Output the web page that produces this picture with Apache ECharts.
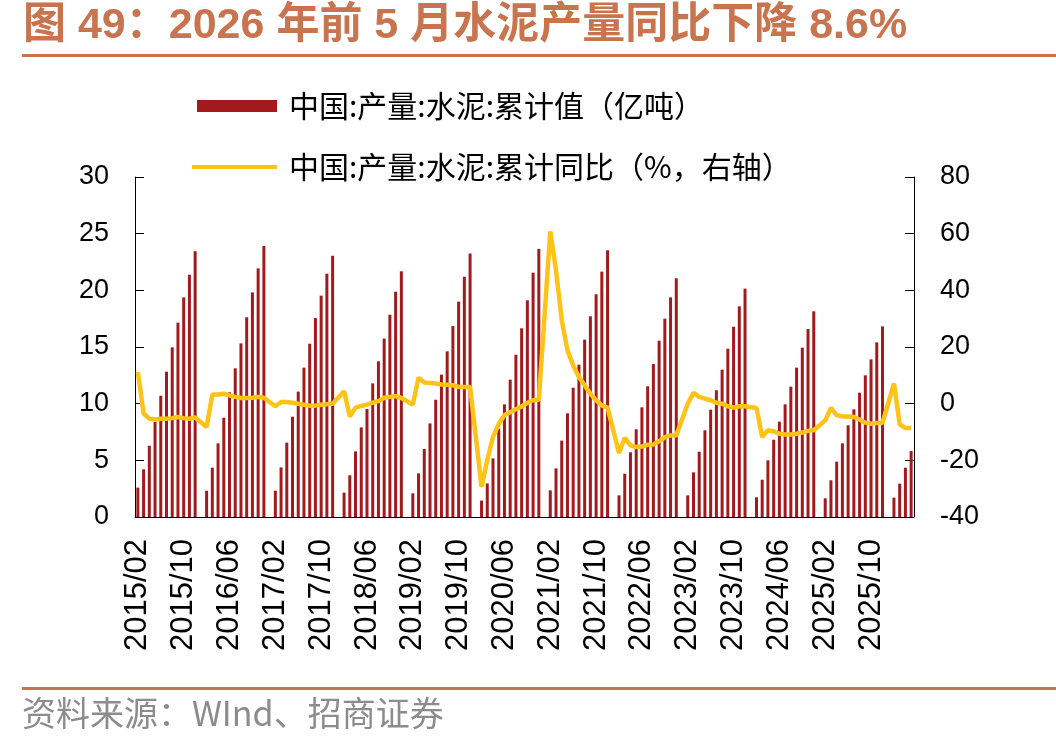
<!DOCTYPE html>
<html>
<head>
<meta charset="utf-8">
<script src="https://cdn.jsdelivr.net/npm/echarts@6/dist/echarts.min.js"></script>
<style>
  html, body { margin: 0; padding: 0; background: #fff; }
  #main { width: 1056px; height: 750px; }
</style>
</head>
<body>
<div id="main"></div>
<script>
// 月份：2015/02 起至 2026/05（1 月份无单独数据，置空）
var startYear = 2015, startMonth = 2, endYear = 2026, endMonth = 5;

// 水泥累计产量（亿吨），每行一年，1 月为 null
var output = [
  2.59, 4.21, 6.29, 8.38, 10.7, 12.82, 14.97, 17.15, 19.38, 21.38, 23.44,
  null, 2.32, 4.35, 6.5, 8.76, 11.0, 13.12, 15.32, 17.62, 19.82, 21.94, 23.91,
  null, 2.32, 4.38, 6.56, 8.85, 11.06, 13.18, 15.29, 17.56, 19.53, 21.47, 23.06,
  null, 2.15, 3.68, 5.79, 7.91, 9.53, 11.79, 13.74, 15.74, 17.85, 19.88, 21.68,
  null, 2.09, 3.85, 6.0, 8.26, 10.35, 12.56, 14.62, 16.85, 19.0, 21.2, 23.24,
  null, 1.45, 2.96, 5.17, 7.8, 9.94, 12.12, 14.32, 16.65, 19.12, 21.56, 23.65,
  null, 2.35, 4.29, 6.74, 9.15, 11.41, 13.44, 15.65, 17.71, 19.65, 21.65, 23.53,
  null, 1.91, 3.82, 5.71, 7.74, 9.68, 11.53, 13.5, 15.56, 17.5, 19.38, 21.06,
  null, 1.91, 3.94, 5.76, 7.65, 9.47, 11.18, 13.0, 14.85, 16.79, 18.59, 20.15,
  null, 1.74, 3.29, 5.0, 6.82, 8.41, 9.94, 11.5, 13.18, 14.94, 16.59, 18.15,
  null, 1.65, 3.24, 4.88, 6.5, 8.09, 9.5, 10.97, 12.5, 13.91, 15.41, 16.82,
  null, 1.71, 2.94, 4.35, 5.82
];

// 水泥累计同比（%，右轴）
var yoy = [
  11.2, -3.5, -5.3, -5.6, -5.3, -5.3, -5.1, -4.7, -5.1, -5.3, -4.9,
  null, -8.2, 3.2, 3.2, 3.5, 2.9, 2.4, 2.0, 2.0, 2.1, 2.4, 2.1,
  null, -0.9, 0.6, 0.6, 0.35, 0, -0.35, -0.7, -0.7, -0.35, -0.2, 0,
  null, 4.4, -4.5, -1.4, -0.8, -0.35, 0.35, 0.9, 2.1, 2.4, 2.7, 2.0,
  null, -0.35, 9.2, 7.5, 7.3, 7.1, 6.8, 6.7, 6.5, 5.9, 5.9, 5.9,
  null, -29.3, -20, -11.7, -7.2, -4.0, -3.0, -2.0, -1.0, 0.3, 1.2, 1.4,
  null, 60.8, 47, 29.4, 18.8, 13.5, 9.4, 6.5, 3.5, 1.2, -0.6, -1.4,
  null, -17.4, -12.1, -14.7, -15.3, -15.1, -14.5, -14.4, -13.3, -11.8, -11.2, -11.2,
  null, 0, 3.8, 2.4, 1.8, 1.2, 0.35, 0, -0.9, -1.4, -0.9, -0.9,
  null, -1.5, -11.8, -9.4, -9.8, -10.6, -10.9, -10.9, -10.6, -10.2, -9.6, -9.4,
  null, -5.9, -1.5, -4.1, -4.5, -4.5, -4.7, -5.6, -6.7, -7.1, -6.8, -6.8,
  null, 7.1, -7.3, -8.6, -8.6
];

var leftTicks = [0, 30, 5];    // min, max, interval
var rightTicks = [-40, 80, 20];

var months = [];
for (var y = startYear; y <= endYear; y++) {
  for (var m = 1; m <= 12; m++) {
    if (y === startYear && m < startMonth) continue;
    if (y === endYear && m > endMonth) break;
    months.push(y + '/' + (m < 10 ? '0' + m : m));
  }
}

var latin = 'Liberation Sans, Arial, Noto Sans CJK SC, sans-serif';
var cjk = 'Noto Sans CJK SC, sans-serif';
var accent = '#C8744F';
var barName = '中国:产量:水泥:累计值（亿吨）';
var lineName = '中国:产量:水泥:累计同比（%，右轴）';

var chart = echarts.init(document.getElementById('main'));
chart.setOption({
  animation: false,
  backgroundColor: '#fff',
  title: {
    text: '图 49：2026 年前 5 月水泥产量同比下降 8.6%',
    left: 18,
    top: 0,
    textStyle: {
      fontFamily: latin,
      fontSize: 43,
      fontWeight: 'bold',
      color: accent
    }
  },
  graphic: [
    { type: 'rect', left: 22, top: 54, shape: { width: 1034, height: 3 }, style: { fill: accent } },
    { type: 'rect', left: 22, top: 687, shape: { width: 1034, height: 3 }, style: { fill: accent } },
    {
      type: 'text', left: 22, top: 696,
      style: { text: '资料来源：WInd、招商证券', fontSize: 34, fontFamily: cjk, fill: '#8C8C8C' }
    }
  ],
  legend: [{
    data: [{ name: barName, icon: 'rect' }],
    left: 192,
    top: 85,
    itemWidth: 80,
    itemHeight: 12,
    itemStyle: { color: '#A31A1D' },
    textStyle: { fontFamily: cjk, fontSize: 30, color: '#000', lineHeight: 32, padding: [0, 0, 0, 7] }
  }, {
    data: [{ name: lineName, icon: 'rect' }],
    left: 187,
    top: 146,
    itemWidth: 85,
    itemHeight: 4,
    itemStyle: { color: '#FFC216' },
    textStyle: { fontFamily: cjk, fontSize: 30, color: '#000', lineHeight: 32, padding: [0, 0, 0, 7] }
  }],
  grid: { left: 135, right: 142, top: 177, bottom: 233 },
  xAxis: {
    type: 'category',
    data: months,
    boundaryGap: true,
    axisLine: { lineStyle: { color: '#000', width: 1 } },
    axisTick: { inside: true, length: 8, interval: 7, lineStyle: { color: '#000' } },
    axisLabel: {
      interval: 7,
      rotate: 90,
      margin: 22,
      fontSize: 31,
      fontFamily: latin,
      color: '#000'
    }
  },
  yAxis: [{
    type: 'value',
    min: leftTicks[0], max: leftTicks[1], interval: leftTicks[2],
    axisLine: { show: true, lineStyle: { color: '#000' } },
    axisTick: { show: true, inside: true, length: 9, lineStyle: { color: '#000' } },
    splitLine: { show: false },
    axisLabel: { margin: 26, fontSize: 27, fontFamily: latin, color: '#000' }
  }, {
    type: 'value',
    min: rightTicks[0], max: rightTicks[1], interval: rightTicks[2],
    position: 'right',
    axisLine: { show: true, lineStyle: { color: '#000' } },
    axisTick: { show: true, inside: true, length: 9, lineStyle: { color: '#000' } },
    splitLine: { show: false },
    axisLabel: { margin: 26, fontSize: 27, fontFamily: latin, color: '#000' }
  }],
  series: [{
    name: barName,
    type: 'bar',
    data: output,
    barWidth: 3,
    itemStyle: { color: '#A31A1D' }
  }, {
    name: lineName,
    type: 'line',
    yAxisIndex: 1,
    data: yoy,
    connectNulls: true,
    symbol: 'none',
    lineStyle: { color: '#FFC216', width: 4.5 },
    itemStyle: { color: '#FFC216' }
  }]
});
window.onresize = chart.resize;
</script>
</body>
</html>
